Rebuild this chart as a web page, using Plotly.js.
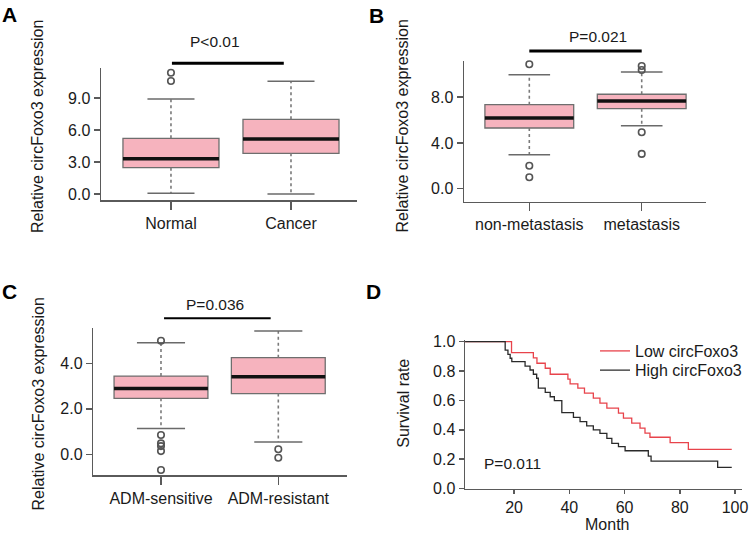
<!DOCTYPE html>
<html>
<head>
<meta charset="utf-8">
<script src="https://cdn.plot.ly/plotly-3.0.1.min.js"></script>
<style>
  html, body { margin: 0; padding: 0; background: #fff; }
  #chart { width: 750px; height: 535px; }
</style>
</head>
<body>
<div id="chart"></div>
<script>
// ---------------- DATA ----------------
// Panel A
const catsA = ['Normal', 'Cancer'];
const q1A = [2.47, 3.81];
const medA = [3.31, 5.16];
const q3A = [5.22, 7.00];
const lowA = [0.06, 0.00];
const upA = [8.90, 10.56];
const outA = [[11.37, 10.59], []];

// Panel B
const catsB = ['non-metastasis', 'metastasis'];
const q1B = [5.31, 7.00];
const medB = [6.19, 7.67];
const q3B = [7.35, 8.26];
const lowB = [2.97, 5.51];
const upB = [9.97, 10.21];
const outB = [[10.88, 2.01, 1.00], [10.73, 10.38, 4.93, 3.04]];

// Panel C
const catsC = ['ADM-sensitive', 'ADM-resistant'];
const q1C = [2.46, 2.67];
const medC = [2.89, 3.41];
const q3C = [3.44, 4.25];
const lowC = [1.13, 0.54];
const upC = [4.91, 5.42];
const outC = [[4.99, 0.85, 0.48, 0.36, 0.14, -0.69], [0.22, -0.15]];

// Panel D (Kaplan-Meier, step curves)
const lowMonths = [2.3, 19.1, 27.0, 28.3, 31.3, 33.1, 39.5, 40.3, 43.1, 45.5, 48.7, 51.1, 53.6, 57.8, 59.6, 62.6, 65.6, 67.4, 69.2, 76.5, 83.1, 98.8];
const lowSurv   = [1.0, 0.926, 0.890, 0.853, 0.819, 0.778, 0.745, 0.712, 0.683, 0.649, 0.615, 0.581, 0.547, 0.513, 0.479, 0.445, 0.411, 0.377, 0.349, 0.312, 0.267, 0.267];
const highMonths = [2.3, 16.8, 17.8, 18.6, 19.2, 24.0, 25.8, 27.0, 28.2, 28.8, 31.3, 33.1, 34.6, 37.3, 41.5, 43.9, 46.3, 48.7, 51.1, 53.6, 55.4, 57.8, 60.2, 68.6, 69.6, 93.7, 98.8];
const highSurv   = [1.0, 0.943, 0.914, 0.887, 0.864, 0.834, 0.807, 0.778, 0.751, 0.683, 0.655, 0.625, 0.598, 0.517, 0.485, 0.455, 0.426, 0.399, 0.376, 0.342, 0.308, 0.285, 0.257, 0.221, 0.187, 0.144, 0.144];
const seriesNames = ['Low circFoxo3', 'High circFoxo3'];
const monthTicks = [20, 40, 60, 80, 100];
const survTicks = [0, 0.2, 0.4, 0.6, 0.8, 1.0];

// Significance labels
const pA = 'P<0.01', pB = 'P=0.021', pC = 'P=0.036', pD = 'P=0.011';

// ---------------- STYLE ----------------
const W = 750, H = 535;
const FONT = 'Liberation Sans, Arial, Helvetica, sans-serif';
const PINK = '#f6b3be';
const BOXLINE = '#6e6e6e';
const AXC = '#5a5a5a';
const TXT = '#1a1a1a';

function dom(x0, x1, y0, y1) { // pixel box -> paper domains
  return { x: [x0 / W, x1 / W], y: [1 - y1 / H, 1 - y0 / H] };
}
const dA = dom(101, 357, 68, 200);
const dB = dom(464, 706, 61, 201.7);
const dC = dom(93.3, 346.7, 328.3, 475);
const dD = dom(465, 741.7, 340.2, 488.5);

function baseX(domain, range, cats, anchor) {
  return {
    domain: domain, range: range, anchor: anchor,
    tickvals: cats.map((c, i) => i), ticktext: cats,
    showline: true, linecolor: AXC, linewidth: 1.5,
    ticks: 'outside', ticklen: 8, tickwidth: 1.5, tickcolor: AXC,
    showgrid: false, zeroline: false, fixedrange: true,
    tickfont: { family: FONT, size: 16, color: TXT }
  };
}
function baseY(domain, range, tv, anchor) {
  return {
    domain: domain, range: range, anchor: anchor,
    tickvals: tv, tickformat: '.1f',
    showline: true, linecolor: AXC, linewidth: 1.5,
    ticks: 'outside', ticklen: 6, tickwidth: 1.5, tickcolor: AXC,
    showgrid: false, zeroline: false, fixedrange: true,
    tickfont: { family: FONT, size: 16, color: TXT }
  };
}
function legendAt(px, py) {
  return {
    x: px / W, y: 1 - py / H, xanchor: 'left', yanchor: 'top',
    bgcolor: 'rgba(0,0,0,0)', borderwidth: 0,
    font: { family: FONT, size: 16, color: TXT }, itemwidth: 30
  };
}

const layout = {
  width: W, height: H,
  margin: { l: 0, r: 0, t: 0, b: 0 },
  paper_bgcolor: '#fff', plot_bgcolor: 'rgba(0,0,0,0)',
  font: { family: FONT, size: 16, color: TXT },
  showlegend: true,
  legend: legendAt(595, 334),
  legend2: legendAt(595, 353.3),
  xaxis: baseX(dA.x, [-0.583, 1.55], catsA, 'y'),
  yaxis: baseY(dA.y, [-0.5625, 11.81], [0, 3, 6, 9], 'x'),
  xaxis2: baseX(dB.x, [-0.581, 1.572], catsB, 'y2'),
  yaxis2: baseY(dB.y, [-1.14, 11.17], [0, 4, 8], 'x2'),
  xaxis3: baseX(dC.x, [-0.577, 1.583], catsC, 'y3'),
  yaxis3: baseY(dC.y, [-0.91, 5.54], [0, 2, 4], 'x3'),
  xaxis4: Object.assign(baseX(dD.x, [2.26, 102.4], [], 'y4'), { tickvals: monthTicks, ticktext: monthTicks.map(String), ticklen: 4 }),
  yaxis4: Object.assign(baseY(dD.y, [0, 1.01], survTicks, 'x4'), { ticklen: 5 }),
  shapes: [], annotations: []
};

// data -> paper helper
function toPX(axName, v) { const a = layout[axName]; return a.domain[0] + (v - a.range[0]) / (a.range[1] - a.range[0]) * (a.domain[1] - a.domain[0]); }

const traces = [];
function boxPanel(xa, ya, q1, med, q3, low, up, outs, boxW, capHalf) {
  const xs = q1.map((v, i) => i);
  traces.push({
    type: 'box', xaxis: xa, yaxis: ya, x: xs,
    q1: q1, median: med, q3: q3, lowerfence: q1, upperfence: q3,
    width: boxW, fillcolor: PINK, line: { color: BOXLINE, width: 1.3 },
    boxpoints: false, showlegend: false, hoverinfo: 'skip', whiskerwidth: 0
  });
  // dashed whiskers
  const wx = [], wy = [];
  xs.forEach(i => { wx.push(i, i, null, i, i, null); wy.push(q3[i], up[i], null, q1[i], low[i], null); });
  traces.push({ type: 'scatter', mode: 'lines', xaxis: xa, yaxis: ya, x: wx, y: wy,
    line: { color: '#7a7a7a', width: 1.6, dash: '3px,3px' }, showlegend: false, hoverinfo: 'skip' });
  // caps
  const cx = [], cy = [];
  xs.forEach(i => { cx.push(i - capHalf, i + capHalf, null, i - capHalf, i + capHalf, null); cy.push(up[i], up[i], null, low[i], low[i], null); });
  traces.push({ type: 'scatter', mode: 'lines', xaxis: xa, yaxis: ya, x: cx, y: cy,
    line: { color: '#6a6a6a', width: 1.5 }, showlegend: false, hoverinfo: 'skip' });
  // medians
  const mx = [], my = [];
  xs.forEach(i => { mx.push(i - boxW / 2, i + boxW / 2, null); my.push(med[i], med[i], null); });
  traces.push({ type: 'scatter', mode: 'lines', xaxis: xa, yaxis: ya, x: mx, y: my,
    line: { color: '#111', width: 3.5 }, showlegend: false, hoverinfo: 'skip' });
  // outliers
  const ox = [], oy = [];
  outs.forEach((arr, i) => arr.forEach(v => { ox.push(i); oy.push(v); }));
  traces.push({ type: 'scatter', mode: 'markers', xaxis: xa, yaxis: ya, x: ox, y: oy,
    marker: { symbol: 'circle-open', size: 6.5, color: '#555', line: { width: 1.6, color: '#555' } },
    showlegend: false, hoverinfo: 'skip', cliponaxis: false });
}
boxPanel('x', 'y', q1A, medA, q3A, lowA, upA, outA, 0.8, 0.196);
boxPanel('x2', 'y2', q1B, medB, q3B, lowB, upB, outB, 0.79, 0.185);
boxPanel('x3', 'y3', q1C, medC, q3C, lowC, upC, outC, 0.80, 0.205);

// KM curves
traces.push({ type: 'scatter', mode: 'lines', xaxis: 'x4', yaxis: 'y4', x: lowMonths, y: lowSurv,
  line: { shape: 'hv', color: '#e8434b', width: 1.3 }, name: seriesNames[0], hoverinfo: 'skip', legend: 'legend' });
traces.push({ type: 'scatter', mode: 'lines', xaxis: 'x4', yaxis: 'y4', x: highMonths, y: highSurv,
  line: { shape: 'hv', color: '#2a2a2a', width: 1.3 }, name: seriesNames[1], hoverinfo: 'skip', legend: 'legend2' });

// significance bars (from data coordinates of the categories)
function sigBar(xa, ya, x0, x1, yv, w) {
  layout.shapes.push({ type: 'line', xref: 'paper', yref: 'paper',
    x0: toPX(xa, x0), x1: toPX(xa, x1), y0: toPX(ya, yv), y1: toPX(ya, yv),
    line: { color: '#000', width: w } });
}
sigBar('xaxis', 'yaxis', 0.008, 0.94, 12.25, 3);
sigBar('xaxis2', 'yaxis2', 0, 1, 12.05, 3);
sigBar('xaxis3', 'yaxis3', 0.026, 0.935, 5.98, 2);

// annotations (text) in pixel positions -> paper
function ann(text, px, py, opts) {
  layout.annotations.push(Object.assign({
    text: text, xref: 'paper', yref: 'paper', x: px / W, y: 1 - py / H,
    xanchor: 'center', yanchor: 'middle', showarrow: false,
    font: { family: FONT, size: 16, color: TXT }
  }, opts || {}));
}
const yTitle = 'Relative circFoxo3 expression';
ann(yTitle, 37.5, 126.5, { textangle: -90 });
ann(yTitle, 402, 126.5, { textangle: -90 });
ann(yTitle, 37.5, 404, { textangle: -90 });
ann('Survival rate', 404, 402.7, { textangle: -90 });
ann('Month', 606.7, 524);
ann(pA, 215, 41, { font: { family: FONT, size: 15.5, color: TXT } });
ann(pB, 598.3, 36.5, { font: { family: FONT, size: 15.5, color: TXT } });
ann(pC, 215.3, 304.5, { font: { family: FONT, size: 15.5, color: TXT } });
ann(pD, 512.5, 463, { font: { family: FONT, size: 15.5, color: TXT } });
const LET = { family: FONT, size: 21, color: '#000', weight: 'bold' };
ann('<b>A</b>', 9.2, 14.5, { font: LET });
ann('<b>B</b>', 376, 15, { font: LET });
ann('<b>C</b>', 9.5, 291, { font: LET });
ann('<b>D</b>', 373, 291, { font: LET });

Plotly.newPlot('chart', traces, layout, { displayModeBar: false, staticPlot: true });
</script>
</body>
</html>
